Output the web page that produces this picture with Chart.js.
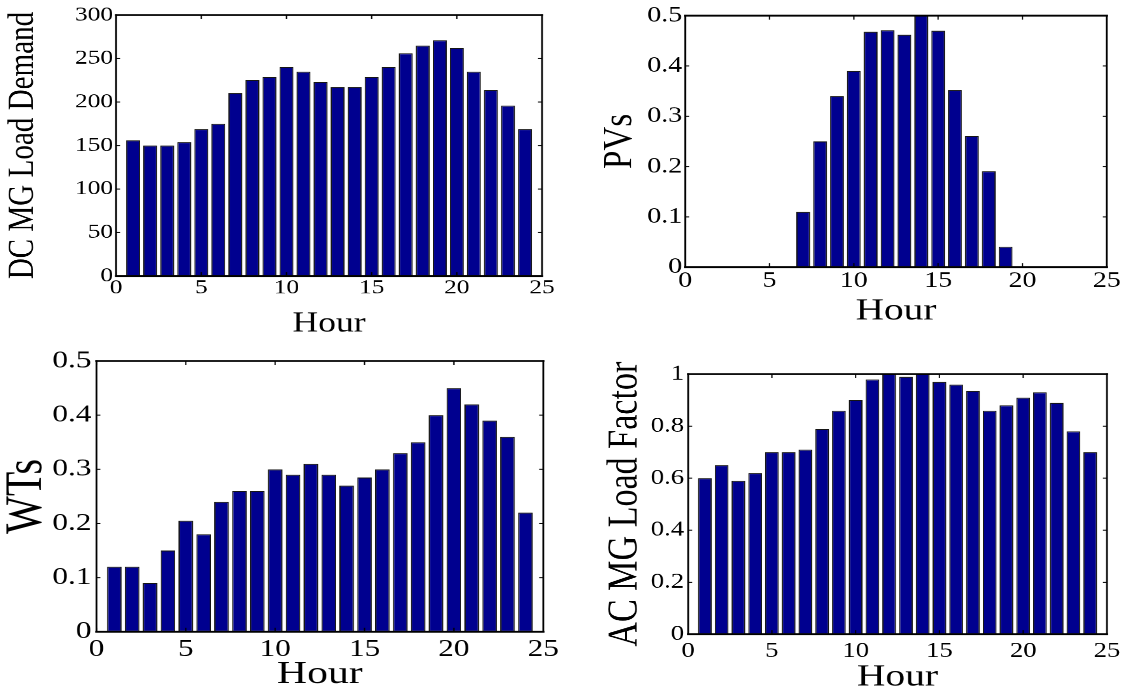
<!DOCTYPE html>
<html>
<head>
<meta charset="utf-8">
<title>Hourly profiles</title>
<script src="https://cdn.jsdelivr.net/npm/chart.js@4.4.1/dist/chart.umd.min.js"></script>
<style>
  html, body { margin: 0; padding: 0; background: #fff; width: 1125px; height: 698px; overflow: hidden; }
  .panel { position: absolute; transform-origin: 0 0; }
  .panel canvas { display: block; }
</style>
</head>
<body>
<div id="p1" class="panel"><canvas id="c1"></canvas></div>
<div id="p2" class="panel"><canvas id="c2"></canvas></div>
<div id="p3" class="panel"><canvas id="c3"></canvas></div>
<div id="p4" class="panel"><canvas id="c4"></canvas></div>
<script>
// ---- data ----
const hours = [1, 2, 3, 4, 5, 6, 7, 8, 9, 10, 11, 12, 13, 14, 15, 16, 17, 18, 19, 20, 21, 22, 23, 24];
const hourTicks = [0, 5, 10, 15, 20, 25];

const dcLoadDemand = [156, 150, 150, 154, 169, 175, 210, 225, 229, 240, 235, 223,
                      217, 217, 229, 240, 256, 265, 271, 262, 235, 214, 196, 169];
const dcLoadTicks = [0, 50, 100, 150, 200, 250, 300];

const pvOutput = [0, 0, 0, 0, 0, 0, 0.11, 0.25, 0.34, 0.39, 0.468, 0.471,
                  0.462, 0.5, 0.47, 0.352, 0.261, 0.191, 0.041, 0, 0, 0, 0, 0];
const pvTicks = [0, 0.1, 0.2, 0.3, 0.4, 0.5];

const wtOutput = [0.12, 0.12, 0.09, 0.15, 0.205, 0.18, 0.24, 0.26, 0.26, 0.3, 0.29, 0.31,
                  0.29, 0.27, 0.285, 0.3, 0.33, 0.35, 0.4, 0.45, 0.42, 0.39, 0.36, 0.22];
const wtTicks = [0, 0.1, 0.2, 0.3, 0.4, 0.5];

const acLoadFactor = [0.6, 0.65, 0.59, 0.62, 0.7, 0.7, 0.71, 0.79, 0.86, 0.9, 0.98, 1,
                      0.99, 1, 0.97, 0.96, 0.935, 0.86, 0.88, 0.91, 0.93, 0.89, 0.78, 0.7];
const acTicks = [0, 0.2, 0.4, 0.6, 0.8, 1];

// ---- look ----
const FONT = "'Liberation Serif', 'Times New Roman', Times, serif";
const BAR_FILL = '#00008f';
const BAR_EDGE = '#151515';

// Boxed axes with short inward tick marks on all four sides.
const framePlugin = {
  id: 'frame',
  afterDraw(chart, args, opts) {
    const { ctx, chartArea: a, scales: { x, y } } = chart;
    const sx = opts.sx || 1;
    const tl = 4;
    const seg = (x1, y1, x2, y2) => { ctx.beginPath(); ctx.moveTo(x1, y1); ctx.lineTo(x2, y2); ctx.stroke(); };
    ctx.save();
    ctx.strokeStyle = '#000';
    ctx.lineWidth = 1;
    x.ticks.forEach(t => {
      const px = x.getPixelForValue(t.value);
      seg(px, a.bottom, px, a.bottom - tl);
      seg(px, a.top, px, a.top + tl);
    });
    y.ticks.forEach(t => {
      const py = y.getPixelForValue(t.value);
      seg(a.left, py, a.left + tl / sx, py);
      seg(a.right, py, a.right - tl / sx, py);
    });
    ctx.lineCap = 'square';
    ctx.lineWidth = 1.8;
    seg(a.left, a.bottom, a.right, a.bottom);
    seg(a.left, a.top, a.right, a.top);
    ctx.lineWidth = 1.8 / sx;
    seg(a.left, a.top, a.left, a.bottom);
    seg(a.right, a.top, a.right, a.bottom);
    ctx.restore();
  }
};

// Panel geometry: plot box [left, top, right, bottom] in page pixels,
// horizontal stretch, font sizes and text anchor positions.
const panels = [
  { id: 'p1', canvas: 'c1', values: dcLoadDemand, yTicks: dcLoadTicks, yMax: 300, yTitle: 'DC MG Load Demand',
    box: [116, 15, 542, 276], top: 0, sx: 1.27, tickSize: 20, xTitleSize: 28, yTitleSize: 29,
    yTitleX: 23, yTickRight: 113, xTickY: 288, xTitleY: 324 },
  { id: 'p2', canvas: 'c2', values: pvOutput, yTicks: pvTicks, yMax: 0.5, yTitle: 'PVs',
    box: [685, 15, 1107, 267], top: 0, sx: 1.27, tickSize: 22, xTitleSize: 31, yTitleSize: 33,
    yTitleX: 620, yTickRight: 682, xTickY: 281, xTitleY: 311 },
  { id: 'p3', canvas: 'c3', values: wtOutput, yTicks: wtTicks, yMax: 0.5, yTitle: 'WTs',
    box: [96, 361, 543, 632], top: 330, sx: 1.3, tickSize: 24, xTitleSize: 32, yTitleSize: 40,
    yTitleX: 27, yTickRight: 91, xTickY: 650, xTitleY: 675 },
  { id: 'p4', canvas: 'c4', values: acLoadFactor, yTicks: acTicks, yMax: 1, yTitle: 'AC MG Load Factor',
    box: [688, 374, 1107, 634], top: 330, sx: 1.27, tickSize: 21, xTitleSize: 31, yTitleSize: 34,
    yTitleX: 625, yTickRight: 684, xTickY: 651, xTitleY: 677 }
];

panels.forEach(p => {
  const [L, T, R, B] = p.box;
  const padR = 20;
  const yW = (L - p.yTitleX) / p.sx + 0.6 * p.yTitleSize;
  const yPad = (L - p.yTickRight) / p.sx;
  const xPad = Math.max(0, p.xTickY - B - 0.6 * p.tickSize);
  const xH = p.xTitleY - B + 0.6 * p.xTitleSize;
  const W = yW + (R - L) / p.sx + padR;
  const H = B - p.top + xH;

  const wrap = document.getElementById(p.id);
  wrap.style.left = (L - p.sx * yW) + 'px';
  wrap.style.top = p.top + 'px';
  wrap.style.transform = 'scaleX(' + p.sx + ')';

  const cv = document.getElementById(p.canvas);
  cv.width = W; cv.height = H;
  cv.style.width = W + 'px'; cv.style.height = H + 'px';

  new Chart(cv, {
    type: 'bar',
    data: {
      datasets: [{
        data: hours.map((h, i) => ({ x: h, y: p.values[i] })),
        backgroundColor: BAR_FILL,
        borderColor: BAR_EDGE,
        borderWidth: c => (c.parsed && c.parsed.y === 0 ? 0 : 1),
        borderSkipped: false,
        barPercentage: 0.82,
        categoryPercentage: 1
      }]
    },
    options: {
      responsive: false,
      animation: false,
      devicePixelRatio: 2,
      layout: { padding: { top: T - p.top, right: padR, left: 0, bottom: 0 } },
      plugins: { legend: { display: false }, tooltip: { enabled: false }, frame: { sx: p.sx } },
      scales: {
        x: {
          type: 'linear', min: 0, max: 25, offset: false,
          grid: { display: false, drawTicks: false }, border: { display: false },
          afterBuildTicks: s => { s.ticks = hourTicks.map(v => ({ value: v })); },
          ticks: { padding: xPad, color: '#000', autoSkip: false, maxRotation: 0,
                   font: { family: FONT, size: p.tickSize }, callback: v => String(v) },
          title: { display: true, text: 'Hour', color: '#000', padding: 0,
                   font: { family: FONT, size: p.xTitleSize } },
          afterFit: s => { s.height = xH; }
        },
        y: {
          min: 0, max: p.yMax,
          grid: { display: false, drawTicks: false }, border: { display: false },
          afterBuildTicks: s => { s.ticks = p.yTicks.map(v => ({ value: v })); },
          ticks: { padding: yPad, color: '#000', autoSkip: false,
                   font: { family: FONT, size: p.tickSize }, callback: v => String(v) },
          title: { display: true, text: p.yTitle, color: '#000', padding: 0,
                   font: { family: FONT, size: p.yTitleSize } },
          afterFit: s => { s.width = yW; }
        }
      }
    },
    plugins: [framePlugin]
  });
});
</script>
</body>
</html>
